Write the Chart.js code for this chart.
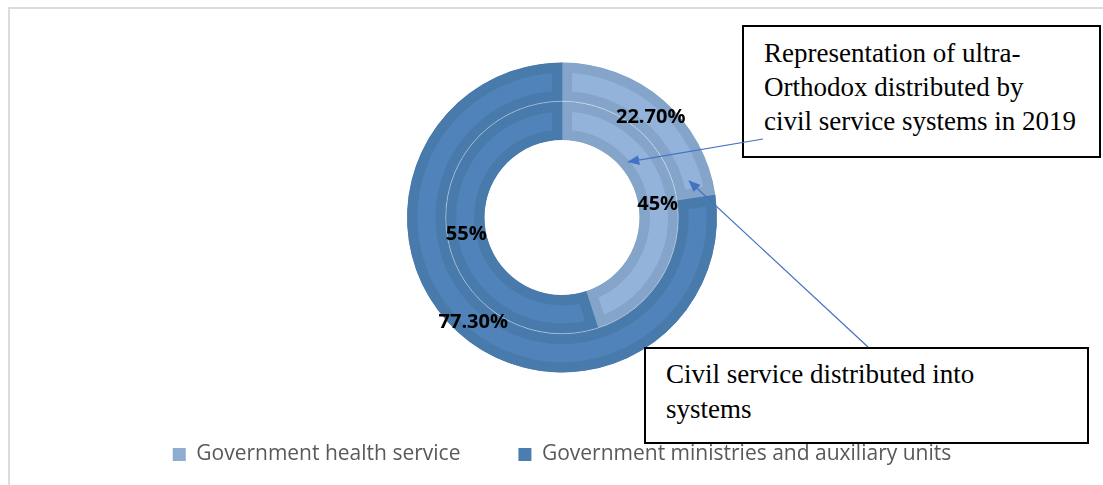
<!DOCTYPE html>
<html>
<head>
<meta charset="utf-8">
<script src="https://cdn.jsdelivr.net/npm/chart.js@4.4.1/dist/chart.umd.min.js"></script>
<style>
body{margin:0;background:#fff;}
#wrap{position:relative;width:1103px;height:485px;overflow:hidden;}
#frame{position:absolute;left:8px;top:7px;width:1200px;height:600px;
  border-left:2px solid #dcdcdc;border-top:2px solid #dcdcdc;}
#chart{position:absolute;left:0;top:0;}
.note{position:absolute;background:#fff;border:2px solid #000;box-sizing:border-box;
  font-family:"Liberation Serif",serif;font-size:27px;color:#000;white-space:nowrap;}
#note1{left:742px;top:25px;width:359px;height:133px;padding:9px 0 0 20px;line-height:34px;}
#note2{left:644px;top:347px;width:445px;height:97px;padding:8px 0 0 20px;line-height:35px;}
#arrows{position:absolute;left:0;top:0;}
</style>
</head>
<body>
<div id="wrap">
  <div id="frame"></div>
  <canvas id="chart" width="1103" height="485"></canvas>
  <div class="note" id="note1">Representation of ultra-<br>Orthodox distributed by<br>civil service systems in 2019</div>
  <div class="note" id="note2">Civil service distributed into<br>systems</div>
  <svg id="arrows" width="1103" height="485">
    <defs>
      <marker id="head" markerWidth="12" markerHeight="10" refX="11" refY="5" orient="auto" markerUnits="userSpaceOnUse">
        <path d="M0,0 L12,5 L0,10 z" fill="#4472c4"></path>
      </marker>
    </defs>
    <line id="arrow1" stroke="#4472c4" stroke-width="1.2" marker-end="url(#head)"></line>
    <line id="arrow2" stroke="#4472c4" stroke-width="1.2" marker-end="url(#head)"></line>
  </svg>
</div>
<script>

/* ========================= */
/* DATA */
/* ========================= */

const categories = ["Government health service", "Government ministries and auxiliary units"];

// outer ring: civil service by system
const civilServiceValues = [22.70, 77.30];

// inner ring: ultra-Orthodox by system
const ultraOrthodoxValues = [45, 55];

const fillColors = ["#94b3da", "#4f83b9"];
const bandColors = ["#84a5c9", "#487aab"];
const legendColors = ["#8eadd1", "#4a7db0"];

/* ========================= */
/* PLUGINS */
/* ========================= */

const ringLine = {
  id: "ringLine",
  afterDatasetsDraw(chart){
    const arc = chart.getDatasetMeta(0).data[0];
    const ctx = chart.ctx;
    ctx.save();
    ctx.strokeStyle = "rgba(255,255,255,0.4)";
    ctx.lineWidth = 1;
    ctx.beginPath();
    ctx.arc(arc.x, arc.y, arc.innerRadius, 0, Math.PI * 2);
    ctx.stroke();
    ctx.restore();
  }
};

const valueLabels = {
  id: "valueLabels",
  afterDatasetsDraw(chart){
    const ctx = chart.ctx;
    ctx.save();
    ctx.font = "bold 20px 'Open Sans'";
    ctx.fillStyle = "#000";
    ctx.textAlign = "center";
    ctx.textBaseline = "middle";
    chart.data.datasets.forEach((ds, d) => {
      chart.getDatasetMeta(d).data.forEach((arc, i) => {
        const p = arc.tooltipPosition();
        ctx.fillText(ds.data[i].toFixed(ds.decimals) + "%", p.x, p.y + 2);
      });
    });
    ctx.restore();
  }
};

/* ========================= */
/* CHART */
/* ========================= */

const chart = new Chart(document.getElementById("chart"), {
  type: "doughnut",
  data: {
    labels: categories,
    datasets: [
      {
        label: "Civil service distributed into systems",
        data: civilServiceValues,
        decimals: 2,
        backgroundColor: fillColors,
        borderColor: bandColors,
        borderWidth: 10,
        borderAlign: "inner",
        borderJoinStyle: "miter"
      },
      {
        label: "Representation of ultra-Orthodox distributed by civil service systems in 2019",
        data: ultraOrthodoxValues,
        decimals: 0,
        backgroundColor: fillColors,
        borderColor: bandColors,
        borderWidth: 10,
        borderAlign: "inner",
        borderJoinStyle: "miter"
      }
    ]
  },
  options: {
    responsive: false,
    animation: false,
    events: [],
    radius: 155,
    cutout: "50%",
    layout: { padding: { left: 21, right: 0, top: 49, bottom: 10 } },
    plugins: {
      tooltip: { enabled: false },
      legend: {
        position: "bottom",
        labels: {
          boxWidth: 13,
          boxHeight: 13,
          padding: 58,
          color: "#595959",
          font: { family: "'Open Sans'", size: 21 },
          generateLabels: () => categories.map((c, i) => ({
            text: c,
            fillStyle: legendColors[i],
            strokeStyle: legendColors[i],
            lineWidth: 0,
            fontColor: "#595959",
            hidden: false,
            index: i
          }))
        }
      }
    }
  },
  plugins: [ringLine, valueLabels]
});

/* ========================= */
/* ARROWS */
/* ========================= */

function pointOnRing(meta, angleFromTop, r){
  const a = (angleFromTop - 90) * Math.PI / 180;
  const arc = meta.data[0];
  return { x: arc.x + Math.cos(a) * r, y: arc.y + Math.sin(a) * r };
}

const innerArc = chart.getDatasetMeta(1).data[0];
const outerArc = chart.getDatasetMeta(0).data[0];

const tip1 = pointOnRing(chart.getDatasetMeta(1), 50, innerArc.innerRadius + 9);
const tip2 = pointOnRing(chart.getDatasetMeta(0), 74, outerArc.innerRadius + 16);

function setArrow(id, x1, y1, p){
  const el = document.getElementById(id);
  el.setAttribute("x1", x1);
  el.setAttribute("y1", y1);
  el.setAttribute("x2", p.x);
  el.setAttribute("y2", p.y);
}

setArrow("arrow1", 763, 139, tip1);
setArrow("arrow2", 868, 347, tip2);

</script>
</body>
</html>
